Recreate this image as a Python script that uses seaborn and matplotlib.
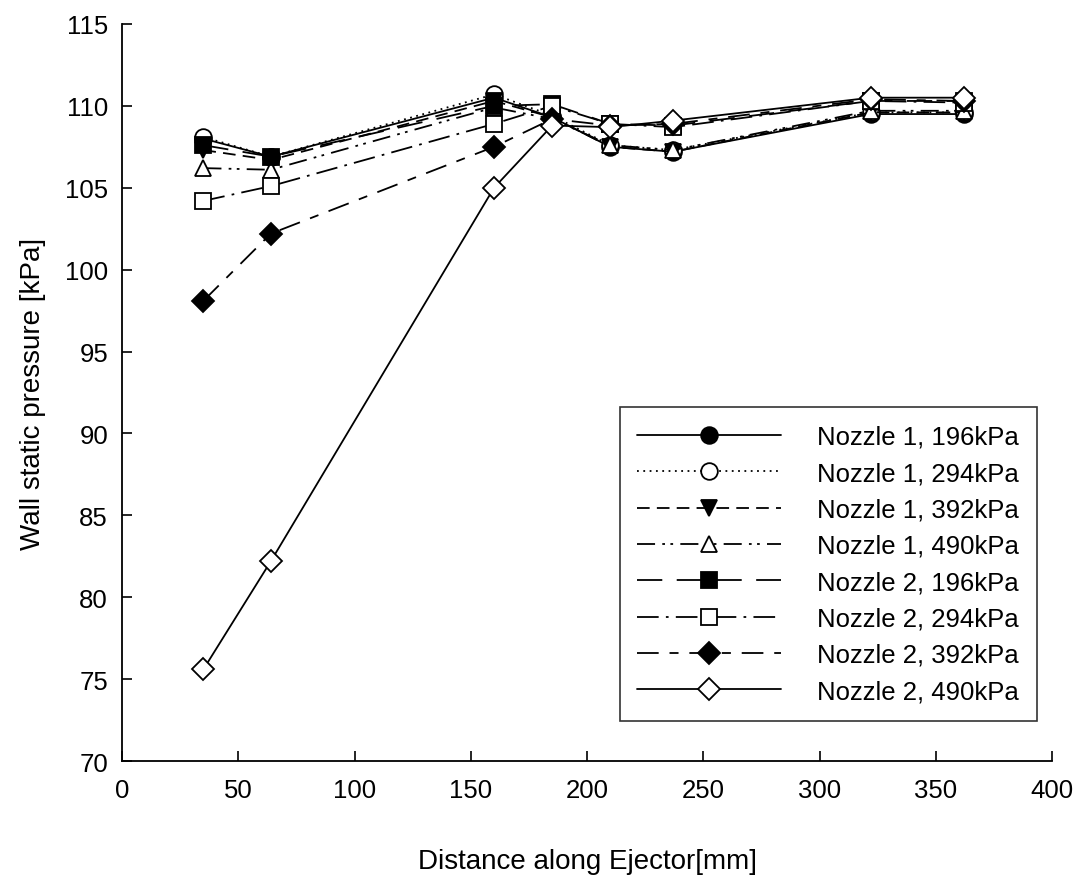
import pandas as pd
import matplotlib
matplotlib.use('Agg')
import matplotlib.pyplot as plt
import seaborn as sns

# Distance along ejector [mm]
distance = [35, 64, 160, 185, 210, 237, 322, 362]

# Wall static pressure [kPa]
n1_196 = [108.0, 106.9, 110.5, 109.3, 107.5, 107.2, 109.5, 109.5]
n1_294 = [108.1, 106.9, 110.7, 109.4, 107.6, 107.3, 109.6, 109.6]
n1_392 = [107.3, 106.7, 110.3, 109.3, 107.5, 107.2, 109.6, 109.6]
n1_490 = [106.2, 106.1, 109.9, 109.2, 107.6, 107.3, 109.7, 109.7]
n2_196 = [107.6, 106.9, 110.0, 110.1, 108.9, 108.8, 110.3, 110.3]
n2_294 = [104.2, 105.1, 108.9, 110.0, 108.9, 108.7, 110.3, 110.2]
n2_392 = [98.1, 102.2, 107.5, 109.2, 108.8, 108.9, 110.4, 110.3]
n2_490 = [75.6, 82.2, 105.0, 108.8, 108.7, 109.1, 110.5, 110.5]

labels = ['Nozzle 1, 196kPa', 'Nozzle 1, 294kPa', 'Nozzle 1, 392kPa', 'Nozzle 1, 490kPa',
          'Nozzle 2, 196kPa', 'Nozzle 2, 294kPa', 'Nozzle 2, 392kPa', 'Nozzle 2, 490kPa']
series = [n1_196, n1_294, n1_392, n1_490, n2_196, n2_294, n2_392, n2_490]

# marker, filled?, linestyle
styles = [
    ('o', True, '-'),
    ('o', False, (0, (1, 2.5))),
    ('v', True, (0, (7, 4))),
    ('^', False, (0, (10, 4, 1.5, 3, 1.5, 4))),
    ('s', True, (0, (14, 8))),
    ('s', False, (0, (12, 4, 1.5, 4))),
    ('D', True, (0, (12, 6, 5, 6))),
    ('D', False, '-'),
]

sns.set_style('ticks')
plt.rcParams['font.family'] = ['Liberation Sans', 'DejaVu Sans']
plt.rcParams['text.color'] = 'black'
plt.rcParams['axes.labelcolor'] = 'black'
plt.rcParams['xtick.color'] = 'black'
plt.rcParams['ytick.color'] = 'black'

fig = plt.figure(figsize=(10.74, 8.79), dpi=100)
ax = fig.add_axes([0.1136, 0.133, 0.866, 0.8386])

for lab, vals, (mk, filled, ls) in zip(labels, series, styles):
    df = pd.DataFrame({'x': distance, 'y': vals})
    sns.lineplot(data=df, x='x', y='y', ax=ax, color='black', linewidth=1.3,
                 linestyle=ls, marker=mk, markersize=12 if mk != 'D' else 11,
                 markerfacecolor='black' if filled else 'white',
                 markeredgecolor='black', markeredgewidth=1.3,
                 errorbar=None, label=lab)

ax.set_xlim(0, 400)
ax.set_ylim(70, 115)
ax.set_xticks(range(0, 401, 50))
ax.set_yticks(range(70, 116, 5))
ax.tick_params(direction='in', length=7, width=1.2, labelsize=18.5)
ax.tick_params(axis='x', pad=12)
ax.tick_params(axis='y', pad=10)
sns.despine(ax=ax, top=True, right=True)
for sp in ['left', 'bottom']:
    ax.spines[sp].set_linewidth(1.3)
    ax.spines[sp].set_color('black')

ax.set_xlabel('Distance along Ejector[mm]', fontsize=20, labelpad=33)
ax.set_ylabel('Wall static pressure [kPa]', fontsize=20, labelpad=14)

leg = ax.legend(loc='lower right', bbox_to_anchor=(0.984, 0.054), fontsize=18.5,
                handlelength=5.6, handletextpad=1.4, labelspacing=0.48,
                frameon=True, fancybox=False, edgecolor='black', numpoints=1,
                borderpad=0.7, borderaxespad=0)
leg.get_frame().set_linewidth(1.2)

plt.savefig('out.png', dpi=100)
